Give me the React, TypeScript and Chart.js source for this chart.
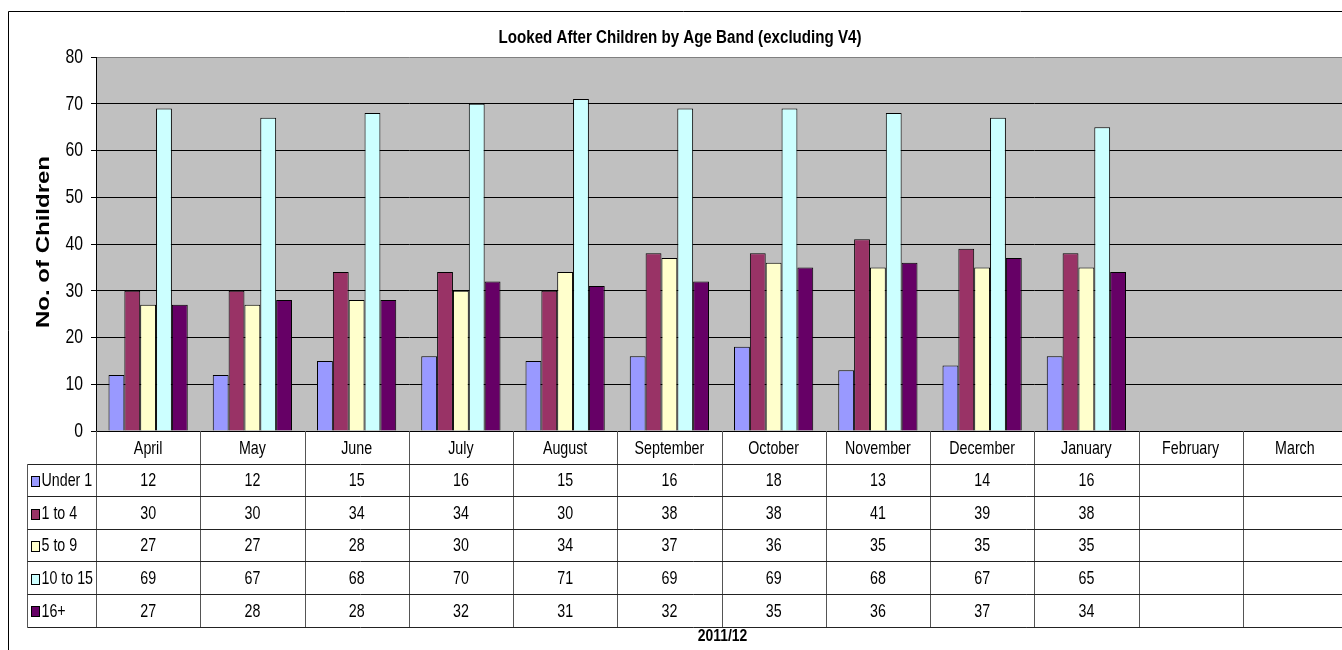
import React, { useEffect, useRef } from "react";
import { Chart, registerables } from "chart.js";

Chart.register(...registerables);

const TITLE = "Looked After Children by Age Band (excluding V4)";
const Y_TITLE = "No. of Children";
const X_TITLE = "2011/12";
const MONTHS = ["April", "May", "June", "July", "August", "September", "October", "November", "December", "January", "February", "March"];
const SERIES_NAMES = ["Under 1", "1 to 4", "5 to 9", "10 to 15", "16+"];
const UNDER_1 = [12, 12, 15, 16, 15, 16, 18, 13, 14, 16];
const AGE_1_TO_4 = [30, 30, 34, 34, 30, 38, 38, 41, 39, 38];
const AGE_5_TO_9 = [27, 27, 28, 30, 34, 37, 36, 35, 35, 35];
const AGE_10_TO_15 = [69, 67, 68, 70, 71, 69, 69, 68, 67, 65];
const AGE_16_PLUS = [27, 28, 28, 32, 31, 32, 35, 36, 37, 34];
const SERIES_VALUES = [UNDER_1, AGE_1_TO_4, AGE_5_TO_9, AGE_10_TO_15, AGE_16_PLUS];
const COLORS = ["#9999FF", "#993366", "#FFFFCC", "#CCFFFF", "#660066"];
const Y_TICKS = [0, 10, 20, 30, 40, 50, 60, 70, 80];

const FONT = 'Arial, "Liberation Sans", sans-serif';
const SX = 0.75;

function txt(ctx: CanvasRenderingContext2D, s: string, x: number, y: number, font: string, align: CanvasTextAlign, sx: number = SX) {
  ctx.save();
  ctx.font = font;
  ctx.fillStyle = "#000";
  ctx.textAlign = align;
  ctx.textBaseline = "middle";
  ctx.translate(x, y);
  ctx.scale(sx, 1);
  ctx.fillText(s, 0, 0);
  ctx.restore();
}

const decorPlugin = {
  id: "decor",
  beforeDraw(chart: any) {
    const { ctx, chartArea: a, width, height } = chart;
    ctx.save();
    ctx.fillStyle = "#fff";
    ctx.fillRect(0, 0, width, height);
    ctx.fillStyle = "#C0C0C0";
    ctx.fillRect(a.left, a.top, a.right - a.left, a.bottom - a.top);
    ctx.strokeStyle = "#000";
    ctx.lineWidth = 1;
    ctx.beginPath();
    ctx.moveTo(0.5, height);
    ctx.lineTo(0.5, 3.5);
    ctx.lineTo(width, 3.5);
    ctx.stroke();
    ctx.restore();
  },
  afterDraw(chart: any) {
    const { ctx, chartArea: a } = chart;
    const n = MONTHS.length;
    const cw = (a.right - a.left) / n;
    const rowH = 32.6;
    const nRows = SERIES_NAMES.length;
    const tableTop = a.bottom + rowH;
    const tableBottom = a.bottom + rowH * (nRows + 1);
    const legLeft = 19.5;
    ctx.save();
    ctx.lineWidth = 1;
    ctx.strokeStyle = "#555";
    ctx.beginPath();
    for (let i = 0; i <= n; i++) {
      const x = Math.round(a.left + i * cw) + 0.5;
      ctx.moveTo(x, a.bottom);
      ctx.lineTo(x, Math.round(tableBottom) + 0.5);
    }
    ctx.moveTo(legLeft, Math.round(tableTop) + 0.5);
    ctx.lineTo(legLeft, Math.round(tableBottom) + 0.5);
    ctx.stroke();
    ctx.strokeStyle = "#222";
    ctx.beginPath();
    for (let r = 0; r <= nRows; r++) {
      const y = Math.round(tableTop + r * rowH) + 0.5;
      ctx.moveTo(legLeft, y);
      ctx.lineTo(a.right + 20, y);
    }
    ctx.stroke();
    const tf = `19px ${FONT}`;
    for (let i = 0; i < n; i++) {
      const cx = a.left + (i + 0.5) * cw;
      txt(ctx, MONTHS[i], cx, a.bottom + rowH / 2 + 1, tf, "center");
    }
    for (let r = 0; r < nRows; r++) {
      const cy = tableTop + (r + 0.5) * rowH + 1;
      ctx.fillStyle = COLORS[r];
      ctx.fillRect(23.5, Math.round(cy - 5) + 0.5, 8, 10);
      ctx.strokeStyle = "#000";
      ctx.strokeRect(23.5, Math.round(cy - 5) + 0.5, 8, 10);
      txt(ctx, SERIES_NAMES[r], 33.5, cy, tf, "left");
      const vals = SERIES_VALUES[r];
      for (let i = 0; i < vals.length; i++) {
        const cx = a.left + (i + 0.5) * cw;
        txt(ctx, String(vals[i]), cx, cy, tf, "center");
      }
    }
    const ys = chart.scales.y;
    for (const t of Y_TICKS) {
      txt(ctx, String(t), 75, ys.getPixelForValue(t), `21px ${FONT}`, "right");
    }
    txt(ctx, TITLE, 672, 30, `bold 18px ${FONT}`, "center", 0.84);
    txt(ctx, X_TITLE, (a.left + a.right) / 2 + 1, 628, `bold 17px ${FONT}`, "center", 0.82);
    ctx.save();
    ctx.font = `bold 24px ${FONT}`;
    ctx.fillStyle = "#000";
    ctx.textAlign = "center";
    ctx.textBaseline = "middle";
    ctx.translate(36, 234);
    ctx.scale(SX, 1);
    ctx.rotate(-Math.PI / 2);
    ctx.fillText(Y_TITLE, 0, 0);
    ctx.restore();
    ctx.restore();
  },
};

export default function App() {
  const ref = useRef<HTMLCanvasElement>(null);
  useEffect(() => {
    document.documentElement.style.overflow = "hidden";
    document.body.style.overflow = "hidden";
    const canvas = ref.current!;
    const chart = new Chart(canvas, {
      type: "bar",
      data: {
        labels: MONTHS,
        datasets: SERIES_NAMES.map((name, i) => ({
          label: name,
          data: SERIES_VALUES[i],
          backgroundColor: COLORS[i],
          borderColor: "#000",
          borderWidth: 1,
          categoryPercentage: 0.76,
          barPercentage: 1.0,
        })),
      },
      options: {
        responsive: false,
        animation: false,
        events: [],
        layout: { padding: { left: 0, top: 49, right: 11, bottom: 219 } },
        plugins: { legend: { display: false }, title: { display: false }, tooltip: { enabled: false } },
        scales: {
          x: { display: false },
          y: {
            min: 0,
            max: 80,
            ticks: { stepSize: 10, display: false },
            afterFit: (s: any) => { s.width = 88; },
            grid: {
              color: (c: any) => (c.tick && c.tick.value === 80 ? "#808080" : "#000"),
              lineWidth: 1,
              drawTicks: true,
              tickLength: 5,
              tickColor: "#000",
            },
            border: { color: "#000", width: 1 },
          },
        },
      },
      plugins: [decorPlugin],
    } as any);
    return () => chart.destroy();
  }, []);
  return (
    <div style={{ position: "fixed", left: 8, top: 8, width: 1350, height: 642, overflow: "hidden" }}>
      <canvas ref={ref} width={1350} height={642} style={{ display: "block", width: 1350, height: 642 }} />
    </div>
  );
}
